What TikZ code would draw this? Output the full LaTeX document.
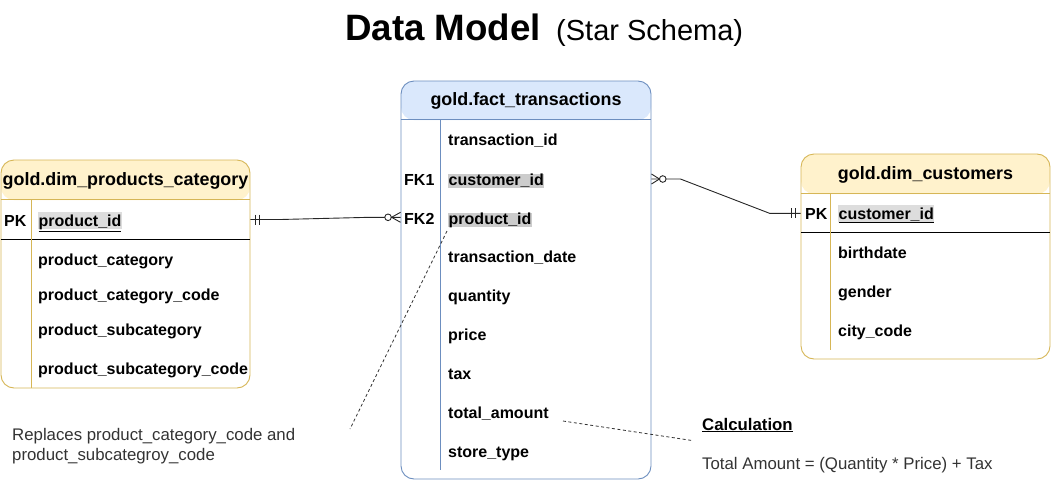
\documentclass[tikz,border=0pt]{standalone}
\usepackage{fontspec}
\setmainfont{Liberation Sans}
\usetikzlibrary{calc}
\definecolor{yfill}{HTML}{FFF2CC}
\definecolor{ystroke}{HTML}{D6B656}
\definecolor{bfill}{HTML}{DAE8FC}
\definecolor{bstroke}{HTML}{6C8EBF}
\definecolor{hlA}{HTML}{DDDDDD}
\definecolor{hlB}{HTML}{CCCCCC}
\definecolor{note}{HTML}{333333}
\begin{document}
\begin{tikzpicture}[x=1pt,y=-1pt,
  tablebox/.style={rounded corners=13pt, line width=0.9pt, fill=white, inner sep=0pt},
  field/.style={anchor=base west, inner sep=0pt, font=\bfseries\fontsize{16}{19}\selectfont},
  keylbl/.style={field},
  headtxt/.style={anchor=base, inner sep=0pt, font=\bfseries\fontsize{17.9}{21}\selectfont},
  hlpk/.style={fill=hlA, inner xsep=0.5pt, inner ysep=0pt, text height=14.3pt, text depth=3pt},
  hlfk/.style={fill=hlB, inner xsep=0.5pt, inner ysep=0pt, text height=11pt, text depth=3pt},
  erline/.style={line width=0.9pt, black!85},
  ermark/.style={line width=0.9pt, black!85},
  noteline/.style={line width=0.8pt, black!80, dash pattern=on 3pt off 2.5pt},
  notetxt/.style={anchor=base west, inner sep=0pt, text=note, font=\fontsize{16.8}{19.3}\selectfont}
]
\useasboundingbox (0,0) rectangle (1051,482);

% Title
\node[anchor=base west, inner sep=0pt, font=\bfseries\fontsize{36.7}{44}\selectfont] (title) at (345,40.7) {Data Model};
\node[anchor=base west, inner sep=0pt, font=\fontsize{29}{35}\selectfont] (subtitle) at (556,40.7) {(Star Schema)};

% ---------------- Left table: gold.dim_products_category
\node[tablebox, draw=ystroke, minimum width=249pt, minimum height=228pt,
  path picture={\fill[yfill] (path picture bounding box.north west) rectangle ([yshift=-40pt]path picture bounding box.north east);}]
  (prod) at (125.5,274) {};
\draw[ystroke, line width=0.9pt] ([yshift=-40pt]prod.north west) -- ([yshift=-40pt]prod.north east);
\draw[black, line width=0.9pt] ([yshift=-79.5pt]prod.north west) -- ([yshift=-79.5pt]prod.north east);
\draw[ystroke, line width=0.9pt] (31,200) -- (31,388);
\node[headtxt] (prodh) at (125.5,185) {gold.dim\_products\_category};
\node[keylbl] (prodpk) at (4,226) {PK};
\node[field, hlpk] (prodid) at (38,226) {\underline{product\_id}};
\node[field] (prodc) at (38,265) {product\_category};
\node[field] (prodcc) at (38,300) {product\_category\_code};
\node[field] (prods) at (38,335) {product\_subcategory};
\node[field] (prodsc) at (38,374) {product\_subcategory\_code};

% ---------------- Fact table: gold.fact_transactions
\node[tablebox, draw=bstroke, minimum width=250pt, minimum height=398pt,
  path picture={\fill[bfill] (path picture bounding box.north west) rectangle ([yshift=-39pt]path picture bounding box.north east);}]
  (fact) at (526,280) {};
\draw[bstroke, line width=0.9pt] ([yshift=-39pt]fact.north west) -- ([yshift=-39pt]fact.north east);
\draw[bstroke, line width=0.9pt] (440,120) -- (440,470);
\node[headtxt] (facth) at (526,105.7) {gold.fact\_transactions};
\node[field] (ftid) at (448,145.7) {transaction\_id};
\node[keylbl] (fk1) at (404,185) {FK1};
\node[field, hlfk] (fcid) at (448,185) {customer\_id};
\node[keylbl] (fk2) at (404,224) {FK2};
\node[field, hlfk] (fpid) at (448,224) {product\_id};
\node[field] (fdate) at (448,262.3) {transaction\_date};
\node[field] (fqty) at (448,301.7) {quantity};
\node[field] (fprice) at (448,340.7) {price};
\node[field] (ftax) at (448,379) {tax};
\node[field] (ftot) at (448,418.3) {total\_amount};
\node[field] (fstore) at (448,457.3) {store\_type};

% ---------------- Right table: gold.dim_customers
\node[tablebox, draw=ystroke, minimum width=249pt, minimum height=205pt,
  path picture={\fill[yfill] (path picture bounding box.north west) rectangle ([yshift=-40pt]path picture bounding box.north east);}]
  (cust) at (925.5,256.5) {};
\draw[ystroke, line width=0.9pt] ([yshift=-40pt]cust.north west) -- ([yshift=-40pt]cust.north east);
\draw[black, line width=0.9pt] ([yshift=-79pt]cust.north west) -- ([yshift=-79pt]cust.north east);
\draw[ystroke, line width=0.9pt] (830,194) -- (830,350);
\node[headtxt] (custh) at (925.5,179.3) {gold.dim\_customers};
\node[keylbl] (custpk) at (805,219.3) {PK};
\node[field, hlpk] (custid) at (838,219.3) {\underline{customer\_id}};
\node[field] (cbirth) at (838,258.3) {birthdate};
\node[field] (cgender) at (838,297.3) {gender};
\node[field] (ccity) at (838,336) {city\_code};

% ---------------- Relationship: products -> fact (FK2)
\coordinate (l1) at (prod.east |- 0,219.5);
\coordinate (l2) at (fact.west |- 0,217.3);
\draw[erline] (l1) -- ++(30,0) -- ($(l2)+(-31,0)$) -- (l2);
\draw[ermark] ($(l1)+(5,-5)$) -- ($(l1)+(5,5)$);
\draw[ermark] ($(l1)+(8.5,-5)$) -- ($(l1)+(8.5,5)$);
\draw[ermark, fill=white] ($(l2)+(-12.5,0)$) circle (3.3pt);
\draw[ermark] ($(l2)+(0,-5)$) -- ($(l2)+(-9,0)$) -- ($(l2)+(0,5)$);

% ---------------- Relationship: customers -> fact (FK1)
\coordinate (r1) at (fact.east |- 0,179);
\coordinate (r2) at (cust.west |- 0,213.3);
\draw[erline] (r1) -- ++(29,0) -- ($(r2)+(-31,0)$) -- (r2);
\draw[ermark] ($(r1)+(0,-5)$) -- ($(r1)+(8,0)$) -- ($(r1)+(0,5)$);
\draw[ermark, fill=white] ($(r1)+(11.3,0)$) circle (3.3pt);
\draw[ermark] ($(r2)+(-9,-5)$) -- ($(r2)+(-9,5)$);
\draw[ermark] ($(r2)+(-5.5,-5)$) -- ($(r2)+(-5.5,5)$);

% ---------------- Notes
\node[notetxt] (note1) at (12,440.7) {Replaces product\_category\_code and};
\node[notetxt] (note2) at (12,460) {product\_subcategroy\_code};
\coordinate (n1a) at (447,231);
\coordinate (n1b) at (350,429);
\draw[noteline] (n1a) -- (n1b);

\node[anchor=base west, inner sep=0pt, font=\bfseries\fontsize{16.8}{19.3}\selectfont] (calc) at (702,430) {\underline{Calculation}};
\node[notetxt] (formula) at (702,469) {Total Amount = (Quantity * Price) + Tax};
\coordinate (n2a) at (563,421);
\coordinate (n2b) at (692,440.5);
\draw[noteline] (n2a) -- (n2b);
\end{tikzpicture}
\end{document}
